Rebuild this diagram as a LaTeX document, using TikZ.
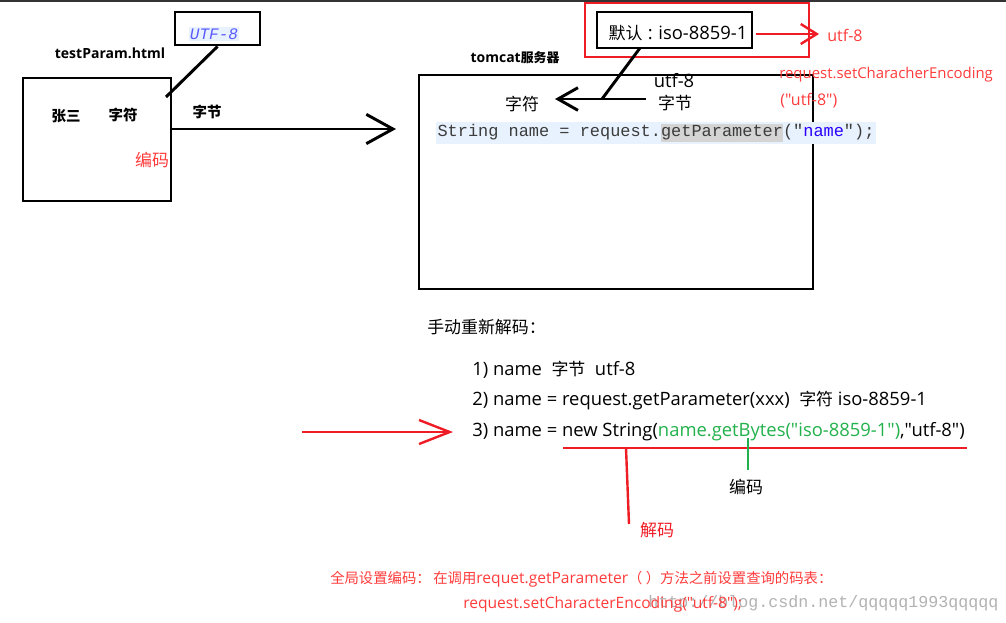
\documentclass[tikz,border=0pt]{standalone}
\usepackage{fontspec}
\newfontfamily\latinfont{Open Sans}
\newfontfamily\cn{Noto Sans CJK SC}[Scale=0.92]
\setmonofont{Liberation Mono}
\usetikzlibrary{arrows.meta}

\definecolor{markred}{HTML}{EE1C24}
\definecolor{notered}{HTML}{FF3B3B}
\definecolor{codegreen}{HTML}{22B14C}
\definecolor{codeback}{HTML}{E8F2FE}
\definecolor{codegrey}{HTML}{D4D4D4}
\definecolor{codetext}{HTML}{3C3C3C}
\definecolor{strblue}{HTML}{2A00FF}
\definecolor{utfblue}{HTML}{5A5AFF}

\begin{document}
\begin{tikzpicture}[x=0.75pt,y=-0.75pt,
    box/.style={draw, line width=2.2pt, inner sep=0pt},
    redbox/.style={draw=markred, line width=1.9pt, inner sep=0pt},
    lbl/.style={inner sep=0pt, font=\fontsize{13.8}{16}\selectfont\latinfont},
    smalllbl/.style={inner sep=0pt, font=\fontsize{12}{14}\selectfont\latinfont},
    boldlbl/.style={inner sep=0pt, font=\fontsize{10.5}{12}\selectfont\latinfont\bfseries},
    boldcn/.style={inner sep=0pt, font=\fontsize{11.8}{13}\selectfont\cn\bfseries},
    redlbl/.style={lbl, text=notered},
    notelbl/.style={inner sep=0pt, text=notered, font=\fontsize{11.7}{13}\selectfont\latinfont, anchor=west},
    barbarrow/.style={line width=2.2pt, -{Straight Barb[length=20pt,width=22pt]}},
    redarrow/.style={draw=markred, line width=1.8pt}]
      \useasboundingbox (0,0) rectangle (1006,622);
      \draw[line width=1.5pt, black!80] (0,0.5) -- (1006,0.5);

      % browser page
      \node[box, minimum width=111pt, minimum height=92.25pt] (page) at (97,139.5) {};
      \node[boldlbl] (pagename) at (110,53) {testParam.html};
      \node[boldcn] (zhang) at (66,116) {张三};
      \node[boldcn] (pagechar) at (123,115) {字符};
      \node[redlbl] (pageenc) at (152,160) {\cn 编码};
      \node[box, minimum width=63.75pt, minimum height=24.75pt] (utf) at (217.5,28.5) {};
      \node[inner sep=1pt, fill=codeback, text=utfblue, font=\fontsize{12}{14}\selectfont\ttfamily\itshape] (utftext) at (214,34) {UTF-8};
      \coordinate (pagecorner) at (166,97);
      \path [-] (utf.south) edge[line width=2.2pt] (pagecorner);

      % request bytes
      \coordinate (sendfrom) at (171,129);
      \coordinate (sendto) at (396,129);
      \path (sendfrom) edge[barbarrow] (sendto);
      \node[boldcn] (bytes) at (207,112) {字节};

      % tomcat
      \node[box, minimum width=295.5pt, minimum height=160.5pt] (tomcat) at (616,182) {};
      \node[boldlbl] (tomcatname) at (515,58) {tomcat{\cn 服务器}};
      \node[redbox, minimum width=168pt, minimum height=40.5pt] (defframe) at (697,30) {};
      \node[box, minimum width=116.25pt, minimum height=27pt] (def) at (674.5,30) {};
      \node[lbl] (deftext) at (678,33) {{\cn 默认}\hspace{0.3em}:\hspace{0.3em}iso-8859-1};
      \node[lbl] (srvutf) at (674,81) {utf-8};
      \node[lbl] (srvbytes) at (675,103) {\cn 字节};
      \node[lbl] (srvchar) at (522,104) {\cn 字符};
      \coordinate (decfrom) at (646,99);
      \coordinate (decto) at (555,99);
      \coordinate (defbottom) at (640,48);
      \coordinate (join) at (602,99);
      \path (decfrom) edge[line width=2.2pt, -{Straight Barb[length=15pt,width=17pt]}] (decto);
      \path [-] (defbottom) edge[line width=2.2pt] (join);
      \node[inner sep=1pt, fill=codeback, text=codetext, font=\fontsize{12.7}{14}\selectfont\ttfamily] (code) at (656,133)
        {String name = request.{\setlength{\fboxsep}{0pt}\colorbox{codegrey}{\strut getParameter}}("\textcolor{strblue}{name}");};

      % setting utf-8
      \coordinate (setfrom) at (756,34);
      \coordinate (setto) at (819,34);
      \path (setfrom) edge[redarrow, -{Straight Barb[length=12pt,width=15pt]}] (setto);
      \node[smalllbl, text=notered] (setutf) at (845,35) {utf-8};
      \node[smalllbl, text=notered, font=\fontsize{11.2}{13}\selectfont\latinfont, anchor=west] (setcall) at (779,75) {request.setCharacherEncoding};
      \node[smalllbl, text=notered, anchor=west] (setarg) at (780,101) {("utf-8")};

      % manual decoding
      \node[lbl, anchor=west] (manual) at (427,327) {\cn 手动重新解码：};
      \node[lbl, anchor=west] (step1) at (472,370) {1) name\ \ {\cn 字节}\ \ utf-8};
      \node[lbl, anchor=west] (step2) at (472,401) {2) name = request.getParameter(xxx)\ \ {\cn 字符} iso-8859-1};
      \node[lbl, anchor=west] (step3) at (472,432)
        {3) name = new String(\textcolor{codegreen}{name.getBytes("iso-8859-1")},"utf-8")};
      \coordinate (pointfrom) at (302,432);
      \coordinate (pointto) at (453,432);
      \path (pointfrom) edge[redarrow, -{Straight Barb[length=23pt,width=18pt]}] (pointto);
      \coordinate (underleft) at (563,448);
      \coordinate (underright) at (967,448);
      \path [-] (underleft) edge[redarrow] (underright);
      \node[lbl, text=markred] (decode) at (657,530) {\cn 解码};
      \coordinate (decodetop) at (626,448);
      \coordinate (decodebottom) at (629,524);
      \path [-] (decodetop) edge[redarrow] (decodebottom);
      \node[lbl] (encode) at (746,487) {\cn 编码};
      \coordinate (encodetop) at (748,438);
      \coordinate (encodebottom) at (748,470);
      \path [-] (encodetop) edge[draw=codegreen, line width=1.8pt] (encodebottom);

      % global setting
      \node[notelbl] (global) at (330,579)
        {{\cn 全局设置编码：}\,{\cn 在调用}requet.getParameter{\cn （ ）方法之前设置查询的码表：}};
      \node[inner sep=0pt, text=black!30, font=\fontsize{12.5}{14}\selectfont\ttfamily, anchor=west] (mark) at (648,603)
        {http://blog.csdn.net/qqqqq1993qqqqq};
      \node[notelbl] (globalcall) at (463,604)
        {request.setCharacterEncoding("utf-8");};
\end{tikzpicture}
\end{document}
